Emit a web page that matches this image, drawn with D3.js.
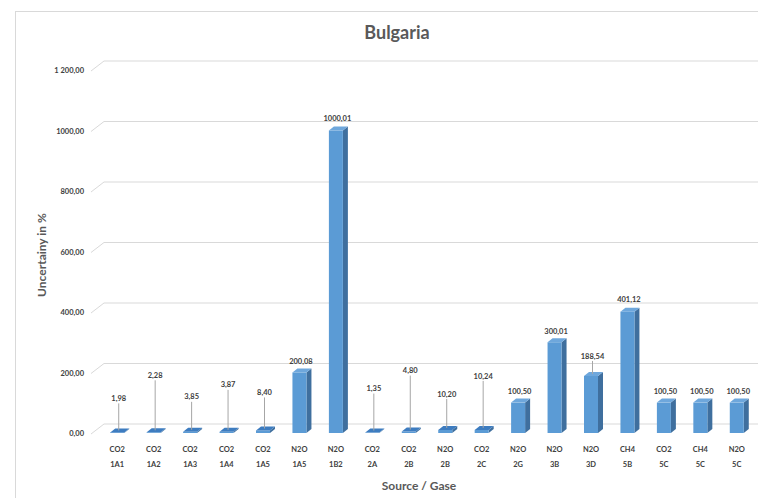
<!DOCTYPE html>
<html>
<head>
<meta charset="utf-8">
<script src="https://cdn.jsdelivr.net/npm/d3@7"></script>
<style>
  html, body { margin: 0; padding: 0; background: #fff; }
  svg { display: block; font-family: Lato, "Open Sans", sans-serif; }
</style>
</head>
<body>
<svg id="chart" width="758" height="498"></svg>
<script>
// Uncertainty by source category and gas
const gases   = ["CO2","CO2","CO2","CO2","CO2","N2O","N2O","CO2","CO2","N2O","CO2","N2O","N2O","N2O","CH4","CO2","CH4","N2O"];
const sources = ["1A1","1A2","1A3","1A4","1A5","1A5","1B2","2A","2B","2B","2C","2G","3B","3D","5B","5C","5C","5C"];
const values  = [1.98, 2.28, 3.85, 3.87, 8.40, 200.08, 1000.01, 1.35, 4.80, 10.20, 10.24, 100.50, 300.01, 188.54, 401.12, 100.50, 100.50, 100.50];
const valueLabels = ["1,98","2,28","3,85","3,87","8,40","200,08","1000,01","1,35","4,80","10,20","10,24","100,50","300,01","188,54","401,12","100,50","100,50","100,50"];
const yTicks = [0, 200, 400, 600, 800, 1000, 1200];
const yTickLabels = ["0,00","200,00","400,00","600,00","800,00","1000,00","1 200,00"];

// label lift above each column top (px); larger lifts get a leader line
const labelLift = [34, 57, 35, 47, 38, 11, 12, 44, 61, 36, 54, 11, 11, 20, 12, 11, 11, 11];

const svg = d3.select("#chart");
const W = 758, H = 498;

// chart frame
svg.append("rect").attr("x", 15.5).attr("y", 11.5).attr("width", 800).attr("height", 600)
  .attr("fill", "#fff").attr("stroke", "#d9d9d9").attr("stroke-width", 1);

const x = d3.scaleBand().domain(d3.range(values.length)).range([99, 755]).padding(0);
const y = d3.scaleLinear().domain([0, 1200]).range([433, 70]);

// 3D offsets
const wallDx = 13, wallDy = -10;   // back wall relative to axis labels
const depthDx = 5, depthDy = -4;   // column depth
const faceW = 14;

// gridlines on back wall with diagonal on the side wall
const grid = svg.append("g");
yTicks.forEach(t => {
  const yy = y(t);
  grid.append("line").attr("x1", 91).attr("y1", yy + 1).attr("x2", 91 + wallDx).attr("y2", yy + 1 + wallDy)
    .attr("stroke", "#d9d9d9").attr("stroke-width", 1);
  grid.append("line").attr("x1", 91 + wallDx).attr("y1", yy + 1 + wallDy).attr("x2", W).attr("y2", yy + 1 + wallDy)
    .attr("stroke", "#d9d9d9").attr("stroke-width", 1);
});

// y axis labels
const yAxis = d3.axisLeft(y).tickValues(yTicks).tickSize(0).tickPadding(0)
  .tickFormat((d, i) => yTickLabels[i]);
const gy = svg.append("g").attr("transform", "translate(84,0)").call(yAxis);
gy.select(".domain").remove();
gy.selectAll("text").attr("font-family", "Lato, sans-serif").attr("font-size", 7.5)
  .attr("font-weight", "bold").attr("fill", "#404040").attr("dy", "0.35em");

// columns
const cx = i => x(i) + x.bandwidth() / 2;
const cols = svg.append("g");
values.forEach((v, i) => {
  const x0 = cx(i) - faceW / 2, x1 = x0 + faceW;
  const yt = y(v), yb = y(0);
  // right side face
  cols.append("path")
    .attr("d", `M${x1},${yb} L${x1 + depthDx},${yb + depthDy} L${x1 + depthDx},${yt + depthDy} L${x1},${yt} Z`)
    .attr("fill", "#3f6f9e");
  // front face
  cols.append("rect").attr("x", x0).attr("y", yt).attr("width", faceW).attr("height", Math.max(0, yb - yt))
    .attr("fill", "#5b9bd5");
  // top face
  cols.append("path")
    .attr("d", `M${x0},${yt} L${x1},${yt} L${x1 + depthDx},${yt + depthDy} L${x0 + depthDx},${yt + depthDy} Z`)
    .attr("fill", v < 20 ? "#3d7cc0" : "#6ea7dc");
});

// data labels with leader lines
const labels = svg.append("g");
values.forEach((v, i) => {
  const lx = cx(i) + 1.5;
  const ly = y(v) - labelLift[i];
  const topY = y(v) + depthDy / 2;
  if (topY - (ly + 5) > 6) {
    labels.append("line").attr("x1", lx).attr("y1", ly + 5).attr("x2", lx).attr("y2", topY)
      .attr("stroke", "#a6a6a6").attr("stroke-width", 1);
  }
  labels.append("text").attr("x", lx).attr("y", ly).attr("dy", "0.35em")
    .attr("text-anchor", "middle").attr("font-size", 7.5).attr("font-weight", "bold")
    .attr("fill", "#404040").text(valueLabels[i]);
});

// category labels (gas and source rows)
const xl = svg.append("g").attr("font-size", 7.5).attr("font-weight", "bold").attr("fill", "#404040")
  .attr("text-anchor", "middle");
values.forEach((v, i) => {
  xl.append("text").attr("x", cx(i)).attr("y", 449).attr("dy", "0.35em").text(gases[i]);
  xl.append("text").attr("x", cx(i)).attr("y", 464).attr("dy", "0.35em").text(sources[i]);
});

// titles
svg.append("text").attr("x", 397).attr("y", 33).attr("dy", "0.35em").attr("text-anchor", "middle")
  .attr("font-size", 18).attr("font-weight", "bold").attr("fill", "#595959").text("Bulgaria");
svg.append("text").attr("transform", "translate(42,255) rotate(-90)").attr("dy", "0.35em")
  .attr("text-anchor", "middle").attr("font-size", 12).attr("font-weight", "bold").attr("fill", "#595959")
  .text("Uncertainy in %");
svg.append("text").attr("x", 419).attr("y", 486).attr("dy", "0.35em").attr("text-anchor", "middle")
  .attr("font-size", 12).attr("font-weight", "bold").attr("fill", "#595959").text("Source / Gase");
</script>
</body>
</html>
